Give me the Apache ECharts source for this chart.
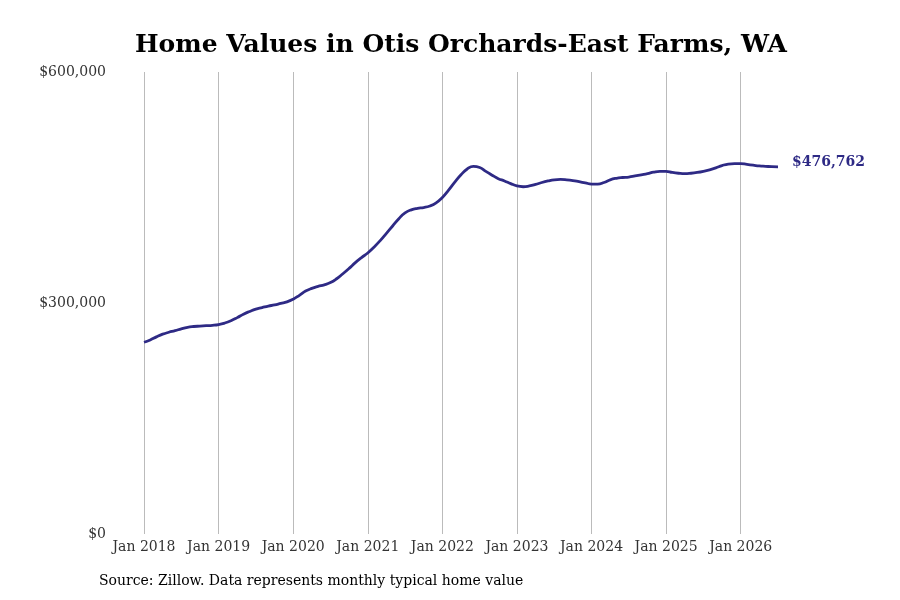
<!DOCTYPE html>
<html>
<head>
<meta charset="utf-8">
<script src="https://cdn.jsdelivr.net/npm/echarts@6/dist/echarts.min.js"></script>
<style>
  html, body { margin: 0; padding: 0; background: #fff; }
  #chart { width: 900px; height: 600px; }
</style>
</head>
<body>
<div id="chart"></div>
<script>
// monthly typical home value, Jan 2018 - Jul 2026 (thousands of dollars)
const values2018 = [249, 252, 256, 259.5, 262, 264, 266.5, 268.5, 269.5, 270, 270.5, 271];
const values2019 = [272, 274, 277, 281, 285.5, 289, 292, 294, 296, 297.5, 299.5, 301.5];
const values2020 = [305, 310, 315.5, 319, 321.5, 323.5, 326.5, 331.5, 338, 345, 352.5, 359];
const values2021 = [365, 372.5, 381, 390.5, 400, 409.5, 417, 421, 423, 424, 426, 430];
const values2022 = [437, 446.5, 457, 466.5, 474, 477.5, 476, 471, 466, 461.5, 458.5, 455];
const values2023 = [452, 451, 452, 454, 456.5, 458.5, 460, 460.5, 460, 459, 457.5, 456];
const values2024 = [454.5, 454.5, 456.5, 460, 462, 463, 463.5, 465, 466.5, 468, 470, 471];
const values2025 = [471, 469.5, 468.5, 468, 468.5, 469.5, 471, 473, 475.5, 478.5, 480.5, 481];
const values2026 = [481, 480, 479, 478, 477.5, 477, 476.762];

const years = [2018, 2019, 2020, 2021, 2022, 2023, 2024, 2025, 2026];
const yTicks = [0, 300000, 600000];

const series = [values2018, values2019, values2020, values2021, values2022,
  values2023, values2024, values2025, values2026];

const months = [];
const homeValues = [];
series.forEach((vals, i) => {
  vals.forEach((v, m) => {
    months.push(years[i] + '-' + String(m + 1).padStart(2, '0'));
    homeValues.push(Math.round(v * 1000));
  });
});

const isJan = (idx, val) => months[idx].endsWith('-01');
const money = v => '$' + v.toLocaleString('en-US');
const serif = 'DejaVu Serif';

const myChart = echarts.init(document.getElementById('chart'));
myChart.setOption({
  animation: false,
  title: {
    text: 'Home Values in Otis Orchards-East Farms, WA',
    left: 130,
    top: 28,
    textStyle: { fontFamily: serif, fontWeight: 'bold', fontSize: 25, color: '#000' }
  },
  graphic: [{
    type: 'text',
    left: 99,
    top: 574,
    style: {
      text: 'Source: Zillow. Data represents monthly typical home value',
      font: '14px "DejaVu Serif"',
      fill: '#000'
    }
  }],
  grid: { left: 144, right: 122, top: 72, bottom: 66 },
  xAxis: {
    type: 'category',
    data: months,
    boundaryGap: false,
    axisLine: { show: false },
    axisTick: { show: false },
    axisLabel: {
      interval: isJan,
      fontFamily: serif,
      fontSize: 14,
      color: '#333',
      margin: 6,
      formatter: v => 'Jan ' + v.slice(0, 4)
    },
    splitLine: {
      show: true,
      interval: isJan,
      lineStyle: { color: '#bbb', width: 1 }
    }
  },
  yAxis: {
    type: 'value',
    min: yTicks[0],
    max: yTicks[yTicks.length - 1],
    interval: 300000,
    axisLine: { show: false },
    axisTick: { show: false },
    splitLine: { show: false },
    axisLabel: {
      fontFamily: serif,
      fontSize: 14,
      color: '#333',
      margin: 38,
      padding: [4, 0, 0, 0],
      formatter: money
    }
  },
  series: [{
    type: 'line',
    data: homeValues,
    smooth: true,
    showSymbol: false,
    lineStyle: { color: '#2e2a85', width: 2.8 },
    endLabel: {
      show: true,
      distance: 14,
      offset: [0, -5],
      fontFamily: serif,
      fontWeight: 'bold',
      fontSize: 14,
      color: '#2e2a85',
      formatter: p => money(p.value)
    }
  }]
});
</script>
</body>
</html>
